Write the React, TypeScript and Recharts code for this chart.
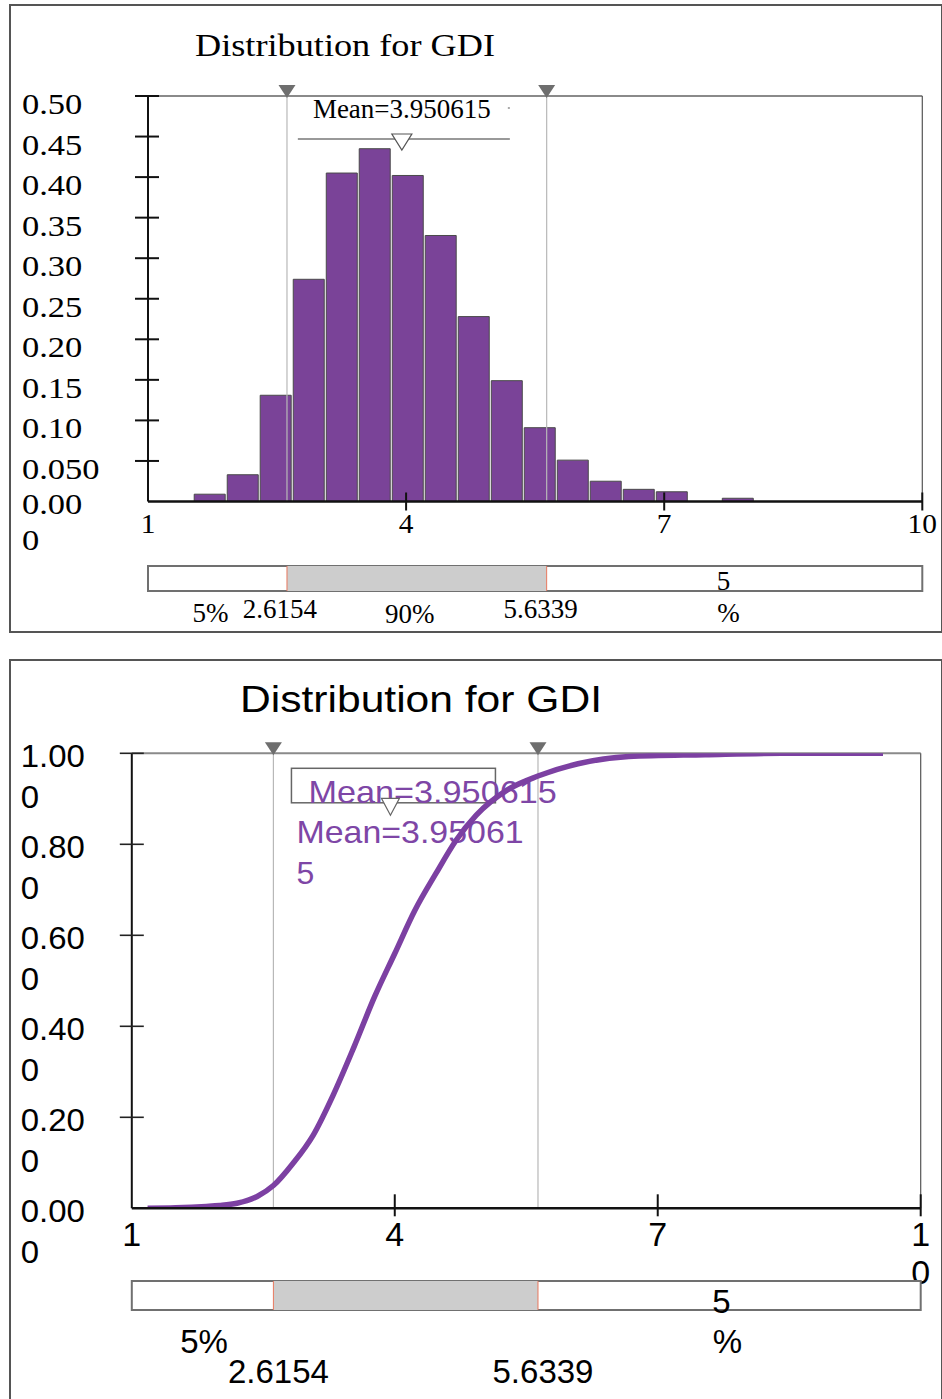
import React from 'react';
import { ComposedChart, Bar, Line, XAxis, YAxis, ReferenceLine, ReferenceArea } from 'recharts';

// ---------- data ----------
const TITLE = 'Distribution for GDI';
const MEAN = 3.950615;
const P5 = 2.6154;
const P95 = 5.6339;

const BIN_CENTERS = [1.717, 2.101, 2.484, 2.868, 3.252, 3.635, 4.019, 4.402, 4.786, 5.17, 5.553, 5.937, 6.32, 6.704, 7.088, 7.471, 7.855];
const BIN_DENSITY = [0.009, 0.033, 0.131, 0.274, 0.405, 0.435, 0.402, 0.328, 0.228, 0.149, 0.091, 0.051, 0.025, 0.015, 0.012, 0, 0.004];

const CDF_X = [1.18, 1.5, 1.85, 2.0, 2.2, 2.43, 2.6154, 2.84, 3.07, 3.3, 3.54, 3.77, 4.0, 4.23, 4.47, 4.7, 4.93, 5.28, 5.6339, 6.09, 6.67, 7.54, 8.41, 9.57];
const CDF_P = [0, 0.001, 0.004, 0.006, 0.011, 0.026, 0.05, 0.099, 0.161, 0.25, 0.357, 0.465, 0.56, 0.655, 0.736, 0.809, 0.864, 0.919, 0.95, 0.977, 0.993, 0.997, 1.0, 1.0];

const X_TICKS = [1, 4, 7, 10];
const TOP_X_LABELS = ['1', '4', '7', '10'];
const BOTTOM_X_LABELS = ['1', '4', '7', '1\n0'];
const TOP_Y_TICKS = [0, 0.05, 0.1, 0.15, 0.2, 0.25, 0.3, 0.35, 0.4, 0.45, 0.5];
const TOP_Y_LABELS = ['0.00\n0', '0.050', '0.10', '0.15', '0.20', '0.25', '0.30', '0.35', '0.40', '0.45', '0.50'];
const BOTTOM_Y_TICKS = [0, 0.2, 0.4, 0.6, 0.8, 1];
const BOTTOM_Y_LABELS = ['0.00\n0', '0.20\n0', '0.40\n0', '0.60\n0', '0.80\n0', '1.00\n0'];
const PCT_LEFT = '5%';
const PCT_MID = '90%';
const PCT_RIGHT = '5\n%';
const P5_LABEL = '2.6154';
const P95_LABEL = '5.6339';

const histData = BIN_CENTERS.map((x, i) => ({ x, d: BIN_DENSITY[i] }));
const cdfData = CDF_X.map((x, i) => ({ x, p: CDF_P[i] }));
const bandData = [{ x: 1, b: 0 }, { x: 10, b: 1 }];

// ---------- styles ----------
const SERIF = '"Liberation Serif", "Times New Roman", Times, serif';
const SANS = '"Liberation Sans", Arial, Helvetica, sans-serif';
const BAR_PURPLE = '#7A4398';
const LINE_PURPLE = '#7C40A2';
const TEXT_PURPLE = '#7E46A6';

type TP = {
  x: number; y: number; size: number; family: string; fill?: string;
  anchor?: 'start' | 'middle' | 'end'; sx?: number; len?: number; children: React.ReactNode;
};
const T = ({ x, y, size, family, fill = '#000', anchor = 'start', sx = 1, len, children }: TP) => {
  const extra: any = len ? { textLength: len, lengthAdjust: 'spacingAndGlyphs' } : {};
  return (
    <text transform={`translate(${x},${y}) scale(${sx},1)`} x={0} y={0} fontSize={size}
      fontFamily={family} fill={fill} textAnchor={anchor} {...extra}>{children}</text>
  );
};

// ---------- ticks ----------
const TopYTick = (props: any) => {
  const { x, y, index } = props;
  const lines = TOP_Y_LABELS[index].split('\n');
  const base = lines.length > 1 ? 12 : 18;
  return (
    <g>
      {index > 0 && <line x1={x - 13} x2={x + 11} y1={y} y2={y} stroke="#111" strokeWidth={2} />}
      {lines.map((ln, i) => (
        <T key={i} x={x - 126} y={y + base + i * 36} size={30} family={SERIF} sx={1.15}>{ln}</T>
      ))}
    </g>
  );
};

const TopXTick = (props: any) => {
  const { x, y, index } = props;
  return (
    <g>
      {index > 0 && <line x1={x} x2={x} y1={y - 9} y2={y + 9} stroke="#111" strokeWidth={2} />}
      <T x={x} y={y + 31} size={28} family={SERIF} anchor="middle" sx={1.05}>{TOP_X_LABELS[index]}</T>
    </g>
  );
};

const BottomYTick = (props: any) => {
  const { x, y, index } = props;
  const lines = BOTTOM_Y_LABELS[index].split('\n');
  return (
    <g>
      {index > 0 && <line x1={x - 12} x2={x + 12} y1={y} y2={y} stroke="#222" strokeWidth={1.6} />}
      {lines.map((ln, i) => (
        <T key={i} x={x - 111} y={y + 13.5 + i * 41} size={32} family={SANS} sx={1.03}>{ln}</T>
      ))}
    </g>
  );
};

const BottomXTick = (props: any) => {
  const { x, y, index } = props;
  const lines = BOTTOM_X_LABELS[index].split('\n');
  return (
    <g>
      {index > 0 && <line x1={x} x2={x} y1={y - 14} y2={y + 8} stroke="#111" strokeWidth={2} />}
      {lines.map((ln, i) => (
        <T key={i} x={x} y={y + 38 + i * 38} size={34} family={SANS} anchor="middle">{ln}</T>
      ))}
    </g>
  );
};

// ---------- labels ----------
const PctMarker = (props: any) => {
  const { x, y } = props.viewBox;
  return <polygon points={`${x - 8.5},${y - 11} ${x + 8.5},${y - 11} ${x},${y + 2}`} fill="#6e6e6e" />;
};

const TopMeanLabel = (props: any) => {
  const { x: mx, y: ty } = props.viewBox;
  return (
    <g>
      <T x={mx} y={ty + 22} size={27} family={SERIF} anchor="middle">{`Mean=${MEAN}`}</T>
      <rect x={mx + 106} y={ty + 11} width={2} height={2} fill="#aaa" />
      <line x1={mx - 104} x2={mx + 108} y1={ty + 43} y2={ty + 43} stroke="#777" strokeWidth={1.5} />
      <polygon points={`${mx - 10},${ty + 38} ${mx + 10},${ty + 38} ${mx},${ty + 54}`} fill="#fff" stroke="#555" strokeWidth={1.2} />
    </g>
  );
};

const BottomMeanLabel = (props: any) => {
  const { x: mx, y: ty } = props.viewBox;
  const s = String(MEAN);
  return (
    <g>
      <rect x={mx - 99} y={ty + 15} width={204} height={34.5} fill="none" stroke="#666" strokeWidth={1.5} />
      <T x={mx - 82} y={ty + 49.5} size={32} family={SANS} fill={TEXT_PURPLE} sx={1.07}>{`Mean=${s}`}</T>
      <T x={mx - 94} y={ty + 90} size={32} family={SANS} fill={TEXT_PURPLE} sx={1.06}>{`Mean=${s.slice(0, -1)}`}</T>
      <T x={mx - 94} y={ty + 131} size={32} family={SANS} fill={TEXT_PURPLE}>{s.slice(-1)}</T>
      <polygon points={`${mx - 9},${ty + 45} ${mx + 9},${ty + 45} ${mx},${ty + 62}`} fill="#fff" stroke="#666" strokeWidth={1.2} />
    </g>
  );
};

// region label (centered in a reference area, lines split by \n)
const RegionLabel = (props: any) => {
  const { viewBox, txt, off, bases, size, fam, cdx } = props;
  const lines: string[] = String(txt).split('\n');
  const cx = viewBox.x + viewBox.width / 2;
  return (
    <g>
      {lines.map((ln, i) => (
        <T key={i} x={cx + (cdx ? cdx[i] : off)} y={viewBox.y + bases[i]} size={size} family={fam} anchor="middle">{ln}</T>
      ))}
    </g>
  );
};

const ValueLabel = (props: any) => {
  const { viewBox, txt, off, base, size, fam } = props;
  return <T x={viewBox.x + off} y={viewBox.y + base} size={size} family={fam} anchor="middle">{txt}</T>;
};

// ---------- app ----------
export default function App() {
  return (
    <div style={{ position: 'absolute', left: 0, top: 0, width: 942, height: 1399, overflow: 'hidden', background: '#fff' }}>
      {/* panel frames */}
      <div style={{ position: 'absolute', left: 9, top: 4, width: 934, height: 629, border: '2px solid #555', boxSizing: 'border-box' }} />
      <div style={{ position: 'absolute', left: 9, top: 659, width: 934, height: 800, border: '2px solid #555', boxSizing: 'border-box' }} />

      {/* top histogram */}
      <div style={{ position: 'absolute', left: 0, top: 0 }}>
        <ComposedChart width={942} height={556} data={histData} margin={{ top: 96, right: 19.7, bottom: 14.5, left: 0 }} barCategoryGap={1}>
          <T x={195} y={56} size={32} family={SERIF} len={300}>{TITLE}</T>
          <XAxis dataKey="x" type="number" domain={[1, 10]} ticks={X_TICKS} interval={0} allowDataOverflow height={40}
            axisLine={{ stroke: '#111', strokeWidth: 2.5 }} tickLine={false} tickSize={0} tickMargin={0} tick={<TopXTick />} />
          <YAxis type="number" domain={[0, 0.5]} ticks={TOP_Y_TICKS} interval={0} allowDataOverflow width={148}
            axisLine={{ stroke: '#111', strokeWidth: 2 }} tickLine={false} tickSize={0} tickMargin={0} tick={<TopYTick />} />
          <ReferenceLine y={0.5} stroke="#8a8a8a" strokeWidth={2} />
          <ReferenceLine x={10} stroke="#555" strokeWidth={1.2} />
          <ReferenceLine x={P5} stroke="#b8b8b8" strokeWidth={1.2} label={<PctMarker />} />
          <ReferenceLine x={P95} stroke="#b8b8b8" strokeWidth={1.2} label={<PctMarker />} />
          <Bar dataKey="d" fill={BAR_PURPLE} stroke="#4a4a4a" strokeWidth={1} isAnimationActive={false} />
          <ReferenceLine x={MEAN} stroke="none" label={<TopMeanLabel />} />
        </ComposedChart>
      </div>

      {/* top percentile band */}
      <div style={{ position: 'absolute', left: 0, top: 556 }}>
        <ComposedChart width={942} height={80} data={bandData} margin={{ top: 10, right: 19.7, bottom: 45, left: 148 }}>
          <XAxis dataKey="x" type="number" domain={[1, 10]} allowDataOverflow hide />
          <YAxis type="number" domain={[0, 1]} allowDataOverflow hide />
          <Line dataKey="b" stroke="none" dot={false} isAnimationActive={false} />
          <ReferenceArea x1={1} x2={10} y1={0} y2={1} fill="#fff" fillOpacity={1} stroke="#707070" strokeWidth={2} ifOverflow="visible" />
          <ReferenceArea x1={P5} x2={P95} y1={0} y2={1} fill="#cdcdcd" fillOpacity={1} stroke="none" ifOverflow="visible" />
          <ReferenceArea x1={1} x2={P5} y1={0} y2={1} fill="none" stroke="none" ifOverflow="visible"
            label={<RegionLabel txt={PCT_LEFT} off={-7} bases={[56]} size={27} fam={SERIF} />} />
          <ReferenceArea x1={P5} x2={P95} y1={0} y2={1} fill="none" stroke="none" ifOverflow="visible"
            label={<RegionLabel txt={PCT_MID} off={-7} bases={[57]} size={27} fam={SERIF} />} />
          <ReferenceArea x1={P95} x2={10} y1={0} y2={1} fill="none" stroke="none" ifOverflow="visible"
            label={<RegionLabel txt={PCT_RIGHT} cdx={[-11, -6]} bases={[24, 56]} size={27} fam={SERIF} />} />
          <ReferenceLine x={P5} stroke="#e8785e" strokeWidth={1} ifOverflow="visible"
            label={<ValueLabel txt={P5_LABEL} off={-7} base={52} size={27} fam={SERIF} />} />
          <ReferenceLine x={P95} stroke="#e8785e" strokeWidth={1} ifOverflow="visible"
            label={<ValueLabel txt={P95_LABEL} off={-6} base={52} size={27} fam={SERIF} />} />
        </ComposedChart>
      </div>

      {/* bottom cumulative curve */}
      <div style={{ position: 'absolute', left: 0, top: 660 }}>
        <ComposedChart width={942} height={640} data={cdfData} margin={{ top: 93.3, right: 21.3, bottom: 46.7, left: 0 }}>
          <T x={240} y={52} size={37.5} family={SANS} len={362}>{TITLE}</T>
          <XAxis dataKey="x" type="number" domain={[1, 10]} ticks={X_TICKS} interval={0} allowDataOverflow height={45}
            axisLine={{ stroke: '#111', strokeWidth: 2.5 }} tickLine={false} tickSize={0} tickMargin={0} tick={<BottomXTick />} />
          <YAxis type="number" domain={[0, 1]} ticks={BOTTOM_Y_TICKS} interval={0} allowDataOverflow width={131.8}
            axisLine={{ stroke: '#111', strokeWidth: 2 }} tickLine={false} tickSize={0} tickMargin={0} tick={<BottomYTick />} />
          <ReferenceLine y={1} stroke="#8a8a8a" strokeWidth={2} />
          <ReferenceLine x={10} stroke="#555" strokeWidth={1.2} />
          <ReferenceLine x={P5} stroke="#b8b8b8" strokeWidth={1.2} label={<PctMarker />} />
          <ReferenceLine x={P95} stroke="#b8b8b8" strokeWidth={1.2} label={<PctMarker />} />
          <ReferenceLine x={MEAN} stroke="none" label={<BottomMeanLabel />} />
          <Line dataKey="p" type="monotone" stroke={LINE_PURPLE} strokeWidth={5.5} dot={false} isAnimationActive={false} />
        </ComposedChart>
      </div>

      {/* bottom percentile band */}
      <div style={{ position: 'absolute', left: 0, top: 1268 }}>
        <ComposedChart width={942} height={131} data={bandData} margin={{ top: 13, right: 21.3, bottom: 89, left: 131.8 }}>
          <XAxis dataKey="x" type="number" domain={[1, 10]} allowDataOverflow hide />
          <YAxis type="number" domain={[0, 1]} allowDataOverflow hide />
          <Line dataKey="b" stroke="none" dot={false} isAnimationActive={false} />
          <ReferenceArea x1={1} x2={10} y1={0} y2={1} fill="#fff" fillOpacity={1} stroke="#707070" strokeWidth={2} ifOverflow="visible" />
          <ReferenceArea x1={P5} x2={P95} y1={0} y2={1} fill="#cdcdcd" fillOpacity={1} stroke="none" ifOverflow="visible" />
          <ReferenceArea x1={1} x2={P5} y1={0} y2={1} fill="none" stroke="none" ifOverflow="visible"
            label={<RegionLabel txt={PCT_LEFT} off={1.5} bases={[72]} size={33} fam={SANS} />} />
          <ReferenceArea x1={P95} x2={10} y1={0} y2={1} fill="none" stroke="none" ifOverflow="visible"
            label={<RegionLabel txt={PCT_RIGHT} cdx={[-8, -2]} bases={[32, 72]} size={33} fam={SANS} />} />
          <ReferenceLine x={P5} stroke="#e8785e" strokeWidth={1} ifOverflow="visible"
            label={<ValueLabel txt={P5_LABEL} off={5} base={102} size={33} fam={SANS} />} />
          <ReferenceLine x={P95} stroke="#e8785e" strokeWidth={1} ifOverflow="visible"
            label={<ValueLabel txt={P95_LABEL} off={5} base={102} size={33} fam={SANS} />} />
        </ComposedChart>
      </div>
    </div>
  );
}
